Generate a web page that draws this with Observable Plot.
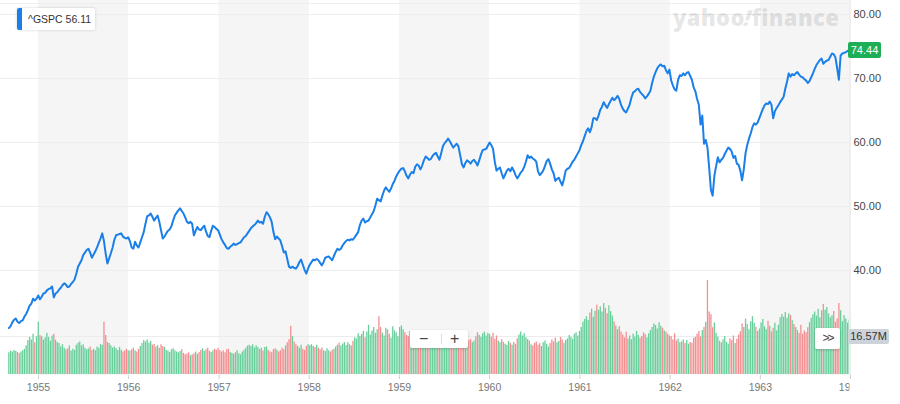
<!DOCTYPE html>
<html><head><meta charset="utf-8">
<script src="https://cdn.jsdelivr.net/npm/d3@7"></script>
<script src="https://cdn.jsdelivr.net/npm/@observablehq/plot@0.6"></script>
<style>
body{margin:0;background:#fff;}
#wrap{position:relative;width:900px;height:404px;overflow:hidden;font-family:"Helvetica Neue",Helvetica,Arial,"Liberation Sans",sans-serif;}
#wrap svg{position:absolute;left:0;top:0;}
.ov{position:absolute;box-sizing:border-box;}
#topline{left:0;top:3px;width:849px;height:1px;background:#eeeeee;}
#legend{left:17px;top:8px;width:78px;height:22px;background:#fff;box-shadow:0 0 3px rgba(0,0,0,.18);border-radius:2px;font-size:10.5px;color:#333;line-height:22px;padding-left:11px;white-space:nowrap;}
#legend .bar{position:absolute;left:0;top:0;width:5px;height:22px;background:#1a7fe8;border-radius:2px 0 0 2px;}
#wm{left:673px;top:2px;font-family:"Open Sans",sans-serif;font-weight:800;font-size:22px;color:rgba(0,0,0,0.11);letter-spacing:0.4px;white-space:nowrap;}
#wm .bang{display:inline-block;transform:skewX(-20deg);}
#tag{left:848px;width:33px;height:16px;background:#1eae56;color:#fff;font-size:11px;line-height:16px;text-align:center;border-radius:2px;}
#vlab{left:848px;width:41px;height:15px;background:#ced3da;color:#333;font-size:11px;line-height:15px;text-align:center;border-radius:2px;}
#zoom{left:410px;top:330px;width:58px;height:18px;background:#fff;box-shadow:0 1px 3px rgba(0,0,0,.2);border-radius:2px;color:#444;font-size:16px;line-height:18px;}
#zoom span{position:absolute;top:0;}
#zoom .div{position:absolute;left:31px;top:4px;width:1px;height:10px;background:#ddd;}
#more{left:815px;top:328px;width:25px;height:21px;background:#fff;box-shadow:0 1px 3px rgba(0,0,0,.2);border-radius:2px;color:#444;font-size:12px;line-height:21px;text-align:center;letter-spacing:-2px;}
</style></head><body><div id="wrap"></div>
<script>
// ---- weekly closes (Friday) ----
const p1954=[31.0,31.3,31.9,32.3,32.5,32.0,31.8,32.1,32.2,32.8,33.2,33.8,34.5,34.8,35.6,35.3,35.6,36.1];
const p1955=[35.5,35.9,36.4,36.5,36.9,37.1,37.2,37.5,35.8,36.4,36.6,37.0,37.3,37.7,38.0,37.8,37.4,37.5,37.9,38.2,38.6,39.5,40.6,41.1,41.6,42.4,42.8,43.2,43.4,42.8,42.0,42.5,43.0,43.6,44.3,45.0,45.8,44.6,42.6,41.1,41.9,42.7,43.6,44.8,45.5,45.6,45.7,45.8,45.3,45.1,45.0,45.2];
const p1956=[44.6,43.6,43.4,44.5,43.9,43.6,44.4,45.2,46.0,47.3,48.5,48.6,48.9,48.4,47.8,48.2,48.6,47.6,46.3,45.0,45.3,45.8,46.2,46.4,46.9,47.8,48.6,49.0,49.4,49.7,49.3,48.9,48.3,47.6,47.4,47.6,47.3,45.5,46.2,46.8,46.4,46.3,46.7,47.0,46.1,45.4,45.2,46.2,47.0,46.8,46.5,46.3];
const p1957=[45.6,44.9,44.4,44.0,43.5,43.4,43.7,43.9,44.2,44.0,44.1,44.3,44.4,44.8,45.2,45.4,45.8,46.2,46.6,46.9,47.1,47.4,47.8,47.5,47.6,47.3,48.4,49.1,48.8,48.3,47.6,46.0,44.9,45.3,45.0,44.7,43.8,42.8,43.0,41.8,40.6,40.4,40.6,40.4,40.3,40.7,41.3,41.7,40.9,40.1,39.5,40.3];
const p1958=[40.9,41.3,41.7,41.6,41.8,41.6,41.2,40.8,41.3,42.0,42.1,42.2,41.9,41.6,42.3,42.9,43.4,43.2,43.4,43.9,44.3,44.6,44.8,44.7,44.9,44.8,45.2,45.6,46.0,47.1,47.8,48.1,47.5,47.7,47.8,48.3,48.8,49.3,50.2,51.2,51.0,50.8,51.7,52.5,53.0,52.6,52.3,52.8,53.5,54.0,54.7,55.2];
const p1959=[55.6,55.9,56.0,55.5,54.8,54.4,55.0,55.4,55.2,56.2,56.6,56.4,55.8,56.4,57.2,57.8,57.6,57.3,57.4,57.9,58.2,58.4,57.8,57.3,58.3,59.4,59.9,60.2,60.6,60.2,59.7,59.2,59.5,59.8,59.4,58.0,56.6,56.1,56.8,57.2,57.0,56.7,57.1,57.3,56.9,56.4,57.2,58.1,58.8,58.9,59.0,59.5];
const p1960=[60.0,59.6,59.0,57.0,55.6,55.9,56.1,55.2,54.4,55.0,55.6,55.9,55.5,56.1,55.6,54.9,54.4,54.8,55.3,55.6,56.2,57.0,58.0,57.6,57.8,57.5,57.3,57.0,55.5,54.9,55.2,55.6,56.3,57.1,57.4,56.7,55.8,55.2,54.0,54.3,54.5,53.9,53.3,54.3,55.6,55.9,56.0,56.5,57.0,57.3,57.8,58.3,58.8];
const p1961=[59.6,60.2,61.0,61.8,62.2,61.6,62.4,63.8,63.8,63.5,64.2,65.1,65.6,66.3,65.8,65.4,66.0,66.5,67.0,66.6,66.9,67.3,66.8,65.9,65.3,64.9,64.7,65.3,65.9,67.0,67.8,68.0,68.3,68.4,67.9,67.6,67.3,66.9,67.2,67.6,68.1,69.3,70.3,71.0,71.6,72.0,72.2,71.9,72.0,71.3,70.8,71.4];
const p1962=[69.7,68.9,68.3,68.1,69.8,70.5,70.4,70.8,70.5,70.9,71.0,70.4,69.8,68.6,68.0,66.8,65.9,62.8,64.2,59.8,60.4,59.2,56.0,52.6,51.7,54.8,56.3,57.7,56.9,57.3,57.6,58.2,58.7,59.2,59.0,58.6,57.6,57.9,56.7,56.5,55.6,54.1,55.8,58.3,59.6,60.6,61.4,62.4,63.0,62.8,63.1,63.8];
const p1963=[64.5,65.2,65.8,66.1,66.0,66.4,65.9,63.8,64.9,65.4,65.8,66.3,66.7,67.1,68.4,69.5,70.8,70.3,70.7,70.5,70.8,71.0,70.6,70.3,70.2,69.9,69.7,69.3,69.6,70.2,70.8,71.5,72.1,72.5,72.9,73.1,72.3,72.6,72.8,72.9,73.4,73.9,73.8,73.3,71.6,69.8,73.6,73.9,74.0,74.1,74.3,74.44];

// ---- weekly volume, millions ----
const v1954=[9.5,10.2,9.8,10.5,10.0,9.6,9.2,9.8,10.4,11.0,12.5,14.8,16.2,15.0,17.5,13.8,16.5,22.8];
const v1955=[17.0,16.5,15.0,16.0,18.0,16.2,14.5,16.8,17.5,15.0,14.0,13.5,12.0,13.0,11.5,10.8,11.2,12.5,10.2,11.0,10.5,12.8,13.6,14.2,12.5,13.0,11.5,10.8,11.2,12.0,10.5,11.0,10.4,12.0,11.5,13.0,12.8,22.8,17.0,14.0,13.5,12.5,11.5,12.0,11.2,10.5,11.8,10.6,9.8,10.2,11.0,10.4];
const v1956=[10.2,10.8,11.5,10.4,9.8,11.0,12.2,13.5,14.8,14.2,15.0,13.6,14.4,12.8,13.2,12.0,12.6,11.5,13.0,12.2,11.8,10.5,10.2,9.6,10.8,11.2,10.4,9.8,9.5,10.0,10.8,9.2,8.6,8.9,9.4,8.2,8.5,9.0,9.8,8.8,9.6,10.5,11.2,10.0,10.8,11.5,10.2,9.6,10.4,11.0,10.6,11.4];
const v1957=[10.5,9.8,10.2,9.5,10.8,11.0,9.6,9.2,8.8,9.5,10.4,9.0,8.6,9.8,10.6,11.5,12.4,12.8,12.2,13.0,11.6,12.5,11.8,10.9,11.4,10.2,11.8,12.0,10.5,9.8,9.5,10.8,11.2,10.6,9.8,10.4,11.5,10.8,12.5,13.8,15.2,21.0,16.5,14.2,13.0,12.2,11.5,12.8,11.0,10.5,12.2,13.0];
const v1958=[12.5,13.0,12.2,11.8,12.8,11.5,10.8,11.6,10.4,10.0,11.2,10.4,9.8,10.6,11.0,12.0,12.8,13.6,12.4,13.2,14.0,12.6,13.8,13.0,12.4,14.5,16.0,15.5,17.8,16.6,17.5,18.8,16.0,18.5,21.5,17.2,19.0,20.5,18.0,19.5,25.2,20.5,18.0,16.8,20.2,19.5,17.5,15.8,20.8,19.0,18.2,16.5];
const v1959=[20.5,21.2,19.5,18.2,17.0,16.5,18.8,17.2,16.0,17.5,19.0,18.2,16.8,15.5,16.2,17.8,16.5,15.2,14.8,16.0,15.5,14.2,13.6,15.0,14.4,16.2,17.0,16.4,15.2,14.6,13.8,14.5,13.2,14.8,15.6,16.8,17.5,15.4,14.2,13.5,14.8,15.2,13.9,14.6,16.5,18.2,17.0,16.2,17.8,18.5,16.8,18.0];
const v1960=[17.5,16.2,18.0,15.4,16.8,14.6,13.8,15.2,14.0,13.2,12.6,14.4,13.5,12.8,14.0,13.2,15.6,17.2,18.5,16.8,17.8,16.0,15.2,14.6,13.0,12.4,13.6,14.2,12.8,13.4,12.2,13.8,14.6,13.2,12.0,13.5,15.0,14.2,15.8,13.8,14.4,16.2,15.0,13.6,14.8,15.5,17.0,16.2,15.4,17.5,18.2,16.8,18.8];
const v1961=[20.5,22.8,24.0,25.2,23.5,26.8,28.5,25.0,27.6,30.2,28.0,29.5,27.2,31.0,28.8,26.5,30.0,27.4,25.5,23.0,21.2,19.5,20.8,18.5,17.2,16.0,18.4,15.5,16.8,15.2,17.5,16.4,18.8,17.0,15.8,16.6,18.2,17.4,16.0,17.8,19.2,20.5,22.0,21.4,19.8,22.6,21.0,20.2,19.0,18.5,17.6,16.8];
const v1962=[16.5,15.2,17.8,14.6,15.5,13.8,14.2,15.0,13.5,14.8,13.2,14.0,13.6,15.8,16.2,17.5,18.8,16.4,19.2,20.5,22.8,41.0,27.2,26.0,20.4,22.5,18.0,16.2,14.5,13.8,15.2,16.6,14.0,13.2,15.5,14.8,16.8,13.5,15.4,17.2,18.6,22.0,20.5,24.2,21.8,19.5,23.0,25.2,22.4,20.6,18.8,19.8];
const v1963=[22.5,24.0,20.8,19.5,23.2,21.0,18.6,20.2,22.4,19.0,21.5,24.8,26.2,25.0,27.0,24.5,26.5,25.8,23.4,21.8,20.5,19.2,18.0,21.5,17.6,19.0,18.2,20.4,22.6,24.5,26.0,27.2,25.5,28.5,24.8,27.8,30.5,28.0,29.2,26.4,24.8,25.6,27.5,22.8,24.2,31.0,27.8,23.0,25.6,24.2,22.4,23.8];

const yearTicks=[1955,1956,1957,1958,1959,1960,1961,1962,1963,1964];
const shadedYears=[1955,1957,1959,1961,1963];
const priceTicks=[40,50,60,70,80];
const legendSymbol="^GSPC", legendValue="56.11";
const volumeLabel="16.57M", volumeLabelValue=16.57;

// ---- build ----
const closes=[].concat(p1954,p1955,p1956,p1957,p1958,p1959,p1960,p1961,p1962,p1963);
const vols=[].concat(v1954,v1955,v1956,v1957,v1958,v1959,v1960,v1961,v1962,v1963);
const dates=d3.utcFriday.range(new Date(Date.UTC(1954,8,3)), new Date(Date.UTC(1963,11,28)));
const n=Math.min(dates.length, closes.length, vols.length);
const rows=[];
for(let i=0;i<n;i++) rows.push({date:dates[i], close:closes[i], vol:vols[i], up: i===0 ? true : closes[i]>=closes[i-1]});
const up=rows.filter(d=>d.up), down=rows.filter(d=>!d.up);
const bands=shadedYears.map(y=>({start:new Date(Date.UTC(y,0,1)), end:new Date(Date.UTC(y+1,0,1))}));
const yearDates=yearTicks.map(y=>new Date(Date.UTC(y,0,1)));
const xDomain=[yearDates[0], yearDates[yearDates.length-1]];

const font='"Helvetica Neue",Helvetica,Arial,"Liberation Sans",sans-serif';
const common={width:900,height:404,marginLeft:0,marginRight:51,marginTop:0,marginBottom:29};

const volPlot=Plot.plot({...common,
  style:{background:"#fff",fontFamily:font},
  x:{type:"utc",domain:xDomain,range:[38,850],axis:null},
  y:{domain:[0,volumeLabelValue],range:[374,336],axis:null},
  marks:[
    Plot.rect(bands,{x1:"start",x2:"end",fill:"#f5f5f5",clip:true}),
    Plot.ruleY([volumeLabelValue],{stroke:"#ececec"}),
    Plot.ruleX(up,{x:"date",y:"vol",stroke:"#68cf9b",strokeWidth:1.3,clip:true}),
    Plot.ruleX(down,{x:"date",y:"vol",stroke:"#f38f91",strokeWidth:1.3,clip:true}),
    Plot.ruleX([xDomain[1]],{stroke:"#dedede",dx:-0.5})
  ]});

const pricePlot=Plot.plot({...common,
  style:{background:"transparent",fontFamily:font,fontSize:"11px"},
  x:{type:"utc",domain:xDomain,range:[38,850]},
  y:{domain:[40,80],range:[270,14]},
  marks:[
    Plot.ruleY(priceTicks,{stroke:"#ededed"}),
    Plot.line(rows,{x:"date",y:"close",stroke:"#1a7fe8",strokeWidth:2,strokeLinejoin:"round",clip:true}),
    Plot.axisY(priceTicks,{anchor:"right",tickSize:0,tickPadding:4,tickFormat:d=>d.toFixed(2),label:null,fill:"#464646",fontSize:11}),
    Plot.axisX(yearDates,{anchor:"bottom",tickSize:4,tickPadding:4,tickFormat:"%Y",label:null,stroke:"#cfcfcf",fill:"#777",fontSize:10.5})
  ]});

const wrap=document.getElementById("wrap");
wrap.appendChild(volPlot);
wrap.appendChild(pricePlot);

// clip the year labels at the plot's right edge
const svg=d3.select(pricePlot);
svg.append("defs").append("clipPath").attr("id","xclip").append("rect").attr("x",0).attr("y",0).attr("width",849).attr("height",404);
svg.selectAll('g[aria-label="x-axis tick label"]').attr("clip-path","url(#xclip)");

function ov(id,html,style){const d=document.createElement("div");d.className="ov";d.id=id;d.innerHTML=html;if(style)Object.assign(d.style,style);wrap.appendChild(d);return d;}
ov("topline","");
ov("wm",'yahoo<span class="bang">!</span>finance');
ov("legend",'<div class="bar"></div>'+legendSymbol+' '+legendValue);
const last=rows[rows.length-1];
const yLast=pricePlot.scale("y").apply(last.close);
ov("tag",last.close.toFixed(2),{top:(yLast-8)+"px"});
const yVol=volPlot.scale("y").apply(volumeLabelValue);
ov("vlab",volumeLabel,{top:(yVol-7.5)+"px"});
ov("zoom",'<span style="left:9px">&minus;</span><div class="div"></div><span style="left:40px">+</span>');
ov("more","&gt;&gt;");
</script></body></html>
